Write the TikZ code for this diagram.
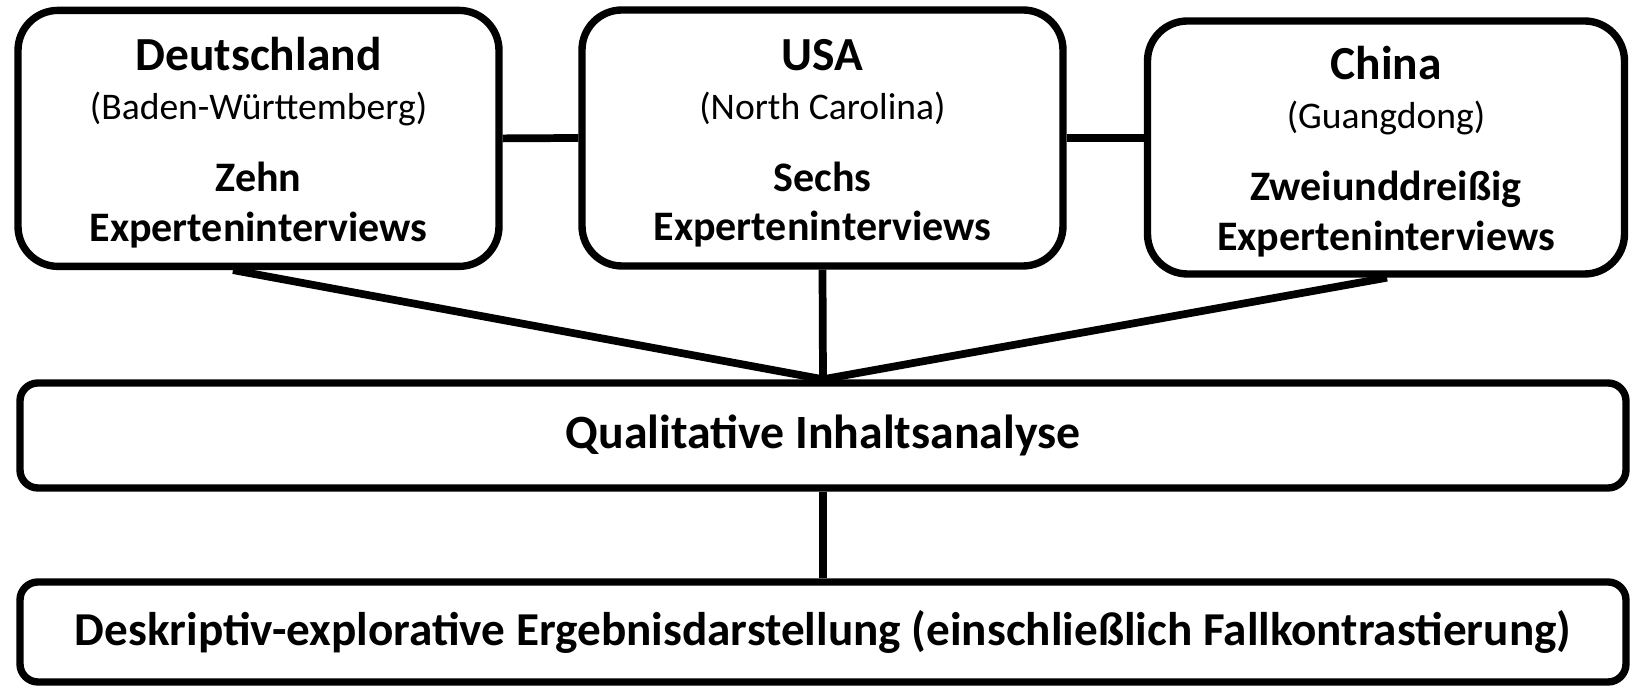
\documentclass[tikz,border=0pt]{standalone}
\usepackage{fontspec}
\setmainfont{Carlito}
\usetikzlibrary{positioning}

\newcommand{\landname}[1]{{\bfseries\fontsize{13.5}{14}\selectfont\rule{0pt}{11.8pt}#1}}
\newcommand{\region}[1]{{\fontsize{10.7}{14}\selectfont #1}}

\tikzset{
    land/.style={draw, line width=2.1pt, rounded corners=0.4cm, minimum width=4.81cm,
        minimum height=2.56cm, align=center, inner sep=0pt, font=\fontsize{11.95}{14}\selectfont},
    stufe/.style={draw, line width=2.1pt, rounded corners=0.18cm, minimum width=16.06cm,
        align=center, inner sep=0pt, font=\bfseries\fontsize{13.6}{16}\selectfont},
    verbindung/.style={line width=2.2pt}
}

\begin{document}
\begin{tikzpicture}
    \useasboundingbox (0,0) rectangle (16.30,-6.88);
    \node[land] (de) at (2.585,-1.384) {\landname{Deutschland}\\[-0.1pt]
        \region{(Baden-Württemberg)}\\[6.6pt] \textbf{Zehn}\\ \textbf{Experteninterviews}};
    \node[land] (us) at (8.225,-1.38) {\landname{USA}\\[-0.1pt]
        \region{(North Carolina)}\\[6.6pt] \textbf{Sechs}\\ \textbf{Experteninterviews}};
    \node[land, minimum width=4.77cm, minimum height=2.53cm] (cn) at (13.86,-1.475) {\landname{China}\\[-0.1pt]
        \region{(Guangdong)}\\[6.6pt] \textbf{Zweiunddreißig}\\ \textbf{Experteninterviews}};
    \node[stufe, minimum height=1.05cm] (qia) at (8.23,-4.355) {Qualitative Inhaltsanalyse};
    \node[stufe, minimum height=1.00cm, font=\bfseries\fontsize{13.43}{16}\selectfont] (erg) at (8.23,-6.32)
        {Deskriptiv-explorative Ergebnisdarstellung (einschließlich Fallkontrastierung)};
    \draw[verbindung] (de.east) -- (us.west);
    \draw[verbindung] (us.east) -- (us.east -| cn.west);
    \draw[verbindung] ([xshift=-0.255cm]de.south) -- (qia.north);
    \draw[verbindung] (us.south) -- (qia.north);
    \draw[verbindung] ([xshift=0.01cm]cn.south) -- (qia.north);
    \draw[verbindung] (qia.south) -- (erg.north);
\end{tikzpicture}
\end{document}
